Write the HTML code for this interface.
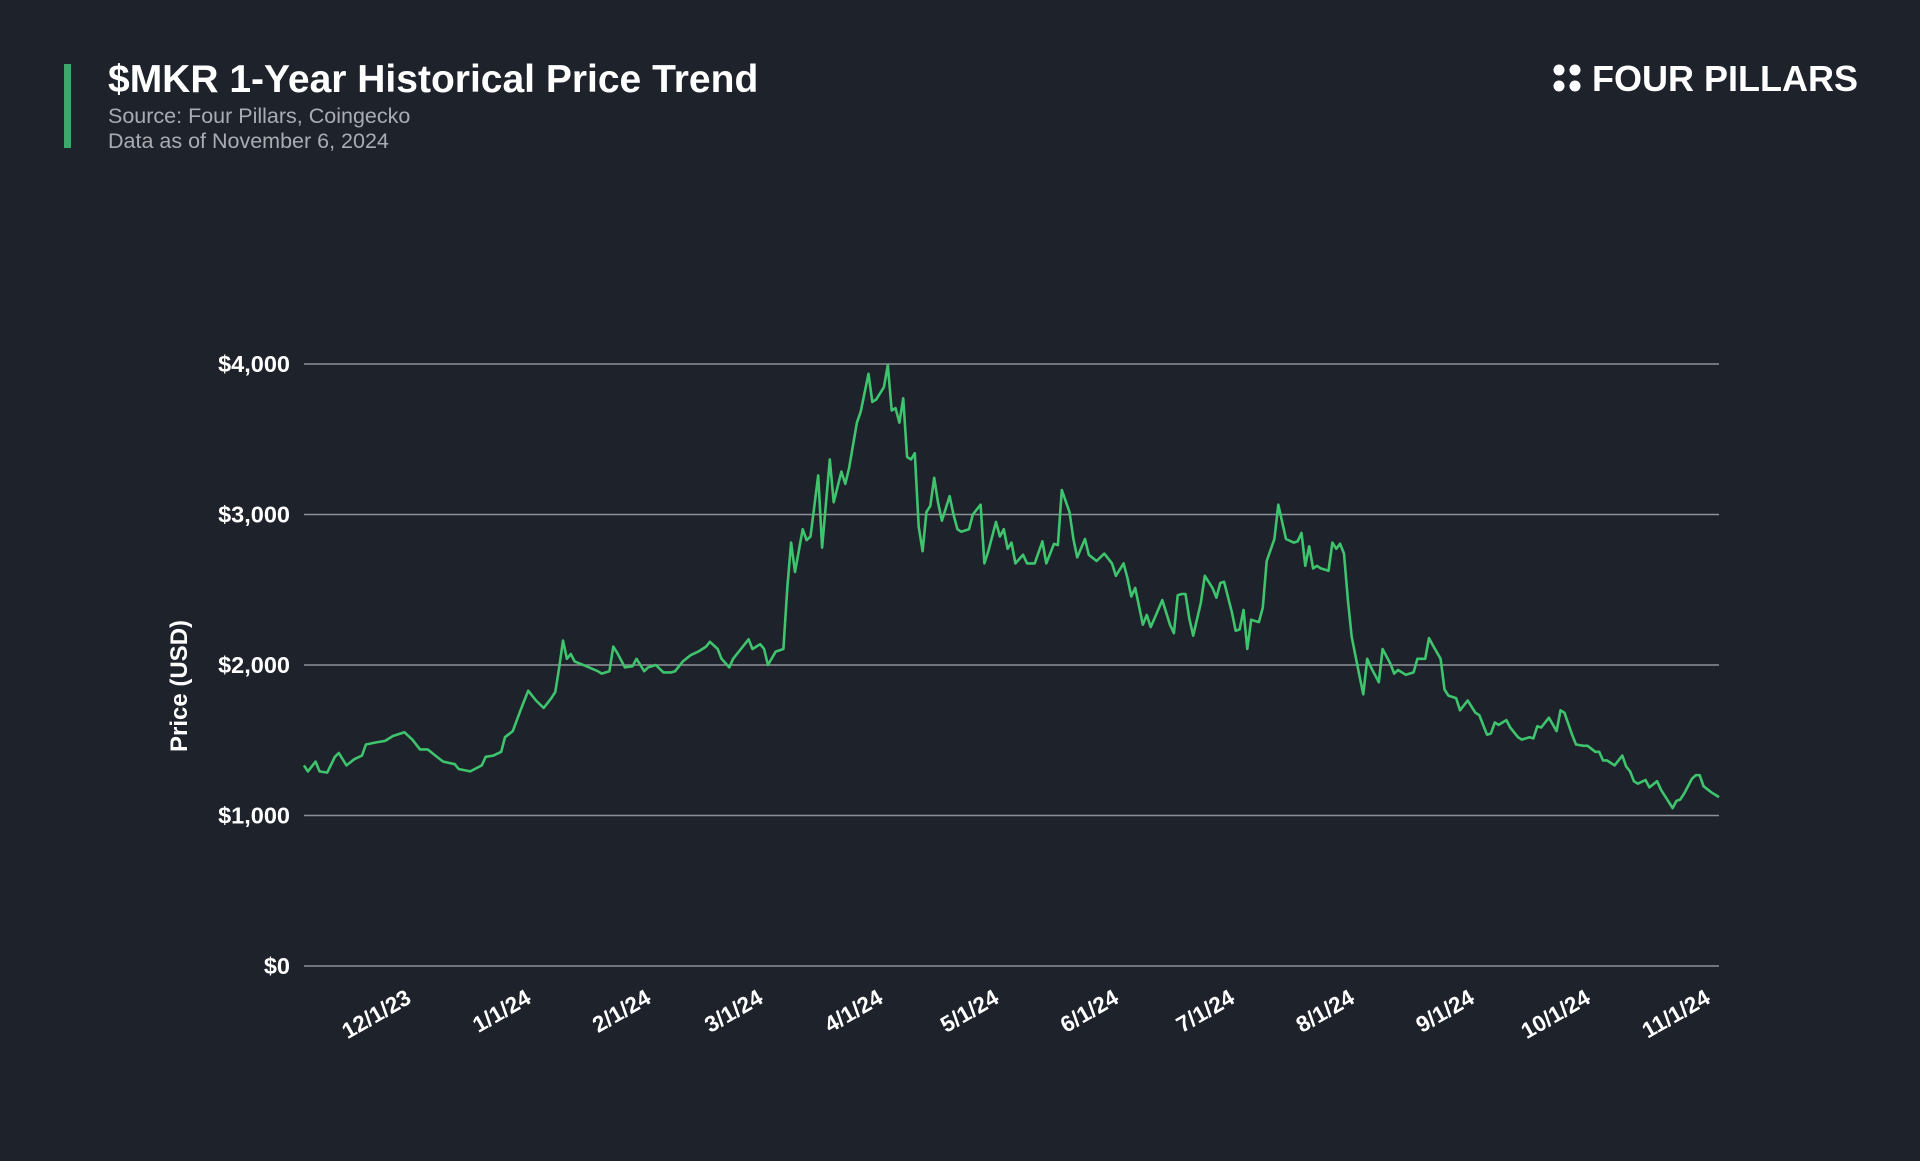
<!DOCTYPE html>
<html><head><meta charset="utf-8"><style>
html,body{margin:0;padding:0;background:#1e222b;width:1920px;height:1161px;overflow:hidden;font-family:"Liberation Sans",sans-serif}
</style></head><body>
<svg id="chart" width="1920" height="1161" xmlns="http://www.w3.org/2000/svg">
<rect x="0" y="0" width="1920" height="1161" fill="#1e222b"/>
<rect x="64" y="64" width="7" height="84" fill="#3aa86a"/>
<text x="108" y="92" fill="#ffffff" font-size="39" font-weight="bold">$MKR 1-Year Historical Price Trend</text>
<text x="108" y="123" fill="#a9acb2" font-size="21.5">Source:  Four Pillars, Coingecko</text>
<text x="108" y="148" fill="#a9acb2" font-size="21.5">Data as of November 6, 2024</text>
<g>
<circle cx="1559" cy="70" r="5.5" fill="#fff"/><circle cx="1575" cy="70" r="5.5" fill="#fff"/>
<circle cx="1559" cy="86" r="5.5" fill="#fff"/><circle cx="1575" cy="86" r="5.5" fill="#fff"/>
<text x="1592" y="91" fill="#ffffff" font-size="36" font-weight="bold">FOUR PILLARS</text>
</g>
<text transform="translate(187,686) rotate(-90)" text-anchor="middle" fill="#ffffff" font-size="24" font-weight="bold">Price (USD)</text>
<g id="grid"></g><g id="xlabels"></g><g id="series"></g>
</svg>
<script>
const yTicks=[0,1000,2000,3000,4000];
const yTickLabels=["$0","$1,000","$2,000","$3,000","$4,000"];
const xTickDays=[25,56,87,116,147,177,208,238,269,300,330,361];
const xTickLabels=["12/1/23","1/1/24","2/1/24","3/1/24","4/1/24","5/1/24","6/1/24","7/1/24","8/1/24","9/1/24","10/1/24","11/1/24"];
const days=[0,1,3,4,6,8,9,11,13,15,16,19,21,23,26,28,30,32,34,36,39,40,43,46,47,49,51,52,54,56,58,60,62,64,65,66,67,68,69,70,73,76,77,79,80,81,83,85,86,88,89,91,93,95,96,98,100,102,104,105,107,108,110,111,113,115,116,118,119,120,122,124,125,126,127,129,130,131,133,134,136,137,139,140,141,143,144,146,147,148,150,151,152,153,154,155,156,157,158,159,160,161,162,163,164,165,167,168,169,170,172,173,175,176,177,179,180,181,182,183,184,186,187,189,191,192,194,195,196,198,199,200,202,203,205,207,209,210,212,213,214,215,217,218,219,220,222,224,225,226,227,228,229,230,232,233,235,236,237,238,240,241,242,243,244,245,247,248,249,251,252,254,256,257,258,259,260,261,262,263,265,266,267,268,269,270,271,273,274,275,276,278,279,281,282,283,285,287,288,290,291,292,294,295,296,298,299,301,303,304,306,307,308,309,311,312,314,315,317,318,319,320,322,324,325,326,328,329,331,332,334,335,336,337,339,341,342,343,344,345,347,348,350,351,352,354,355,356,357,359,360,361,362,364,366];
const prices=[1333,1293,1358,1293,1285,1390,1415,1333,1374,1398,1472,1488,1496,1528,1553,1504,1439,1439,1398,1358,1341,1309,1293,1333,1390,1398,1423,1520,1561,1699,1829,1764,1715,1780,1821,1984,2163,2041,2073,2024,1992,1959,1943,1959,2122,2081,1984,1992,2041,1959,1984,2000,1951,1951,1959,2024,2065,2089,2122,2154,2106,2041,1984,2041,2106,2171,2106,2138,2106,2000,2089,2106,2512,2813,2618,2902,2829,2854,3260,2780,3366,3081,3285,3203,3309,3610,3683,3935,3748,3764,3846,3992,3691,3707,3610,3772,3382,3366,3407,2919,2756,3016,3057,3244,3081,2959,3122,3000,2902,2886,2902,3000,3065,2675,2756,2951,2854,2902,2772,2813,2675,2732,2675,2675,2821,2675,2805,2797,3163,3016,2837,2715,2837,2732,2691,2740,2675,2593,2675,2577,2455,2512,2268,2333,2252,2309,2431,2268,2211,2463,2472,2472,2309,2195,2415,2593,2512,2447,2545,2553,2350,2228,2236,2366,2106,2301,2285,2382,2691,2837,3065,2837,2813,2821,2878,2659,2789,2642,2659,2642,2626,2813,2772,2805,2740,2431,2187,1927,1805,2041,1984,1886,2106,2008,1943,1967,1935,1951,2041,2041,2179,2130,2041,1837,1797,1780,1699,1764,1683,1667,1537,1545,1618,1602,1634,1585,1520,1504,1520,1512,1593,1585,1650,1561,1699,1683,1537,1472,1463,1463,1423,1423,1366,1366,1333,1398,1325,1293,1228,1211,1236,1187,1228,1171,1130,1049,1098,1106,1146,1244,1268,1268,1195,1154,1122];
const NS="http://www.w3.org/2000/svg";
const X0=304,X1=1719,Y0=966,Y1=364,DMAX=366,VMAX=4000;
function xs(d){return X0+(X1-X0)*d/DMAX;}
function ys(v){return Y0-(Y0-Y1)*v/VMAX;}
const grid=document.getElementById('grid');
yTicks.forEach((t,i)=>{
  const l=document.createElementNS(NS,'line');
  l.setAttribute('x1',X0);l.setAttribute('x2',X1);l.setAttribute('y1',ys(t));l.setAttribute('y2',ys(t));
  l.setAttribute('stroke','#8e9197');l.setAttribute('stroke-width','1.6');
  
  
  grid.appendChild(l);
  const tx=document.createElementNS(NS,'text');
  tx.setAttribute('x',290);tx.setAttribute('y',ys(t)+8);tx.setAttribute('text-anchor','end');
  tx.setAttribute('fill','#fff');tx.setAttribute('font-size','23.5');tx.setAttribute('font-weight','bold');
  tx.textContent=yTickLabels[i];
  
  
  grid.appendChild(tx);
});
const xl=document.getElementById('xlabels');
xTickDays.forEach((d,i)=>{
  const tx=document.createElementNS(NS,'text');
  const x=xs(d)+12,y=1002;
  tx.setAttribute('transform','translate('+x+','+y+') rotate(-30)');
  tx.setAttribute('text-anchor','end');
  tx.setAttribute('fill','#fff');tx.setAttribute('font-size','22.5');tx.setAttribute('font-weight','bold');
  tx.textContent=xTickLabels[i];
  
  
  xl.appendChild(tx);
});
const n=Math.min(days.length,prices.length);
let dstr='';
for(let i=0;i<n;i++){dstr+=(i?'L':'M')+xs(days[i]).toFixed(1)+' '+ys(prices[i]).toFixed(1);}
const p=document.createElementNS(NS,'path');
p.setAttribute('d',dstr);p.setAttribute('fill','none');p.setAttribute('stroke','#3ec46d');
p.setAttribute('stroke-width','2.6');p.setAttribute('stroke-linejoin','round');


document.getElementById('series').appendChild(p);
</script>
</body></html>
